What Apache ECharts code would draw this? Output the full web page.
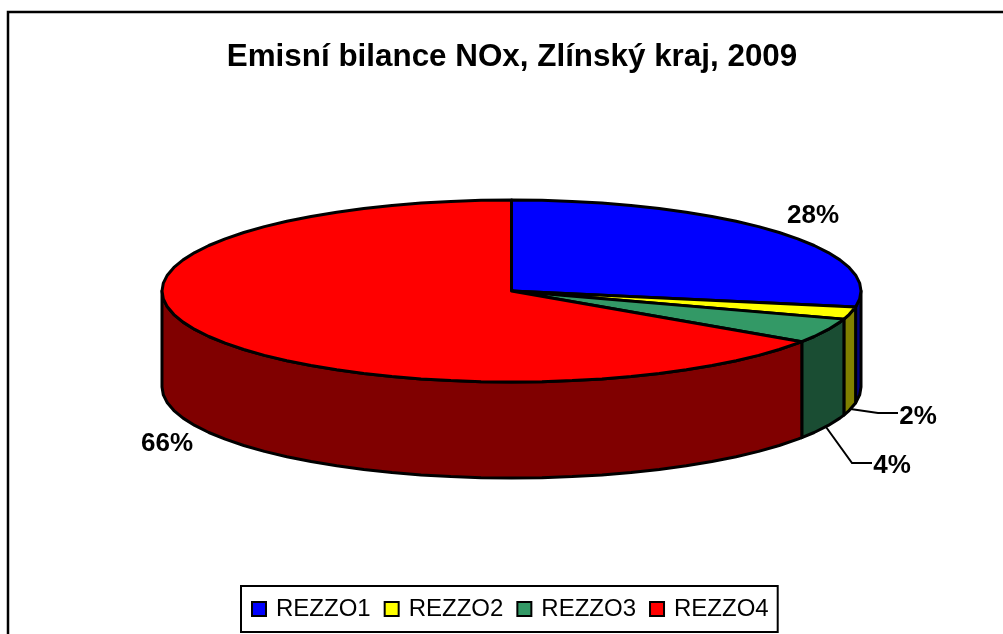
<!DOCTYPE html>
<html><head><meta charset="utf-8">
<style>html,body{margin:0;padding:0;background:#fff}#c{width:1003px;height:634px}</style>
<script src="https://cdn.jsdelivr.net/npm/echarts@6/dist/echarts.min.js"></script>
</head><body><div id="c"></div>
<script>
const chartTitle = 'Emisní bilance NOx, Zlínský kraj, 2009';
const categories = ['REZZO1', 'REZZO2', 'REZZO3', 'REZZO4'];
const shares = [27.8, 2.2, 4.4, 65.6];
const topColors = ['#0000FF', '#FFFF00', '#339966', '#FF0000'];
const sideColors = ['#000080', '#808000', '#1A4D33', '#800000'];

const FONT = '"Liberation Sans", Arial, sans-serif';
const pie = { cx: 511.5, cy: 291, rx: 349.5, ry: 91, depth: 96 };
const labelSpots = [[813, 216], [918, 417], [892, 466], [167, 444]];
const leaderBends = [null, [[878, 413], [898, 413]], [[852, 463], [872, 463]], null];
const facetDeg = 5;

const total = shares.reduce((a, b) => a + b, 0);
const startDeg = [];
shares.reduce((acc, v, i) => { startDeg[i] = acc / total * 360; return acc + v; }, 0);

function pt(deg, dy) {
  const r = deg * Math.PI / 180;
  return [pie.cx + pie.rx * Math.sin(r), pie.cy - pie.ry * Math.cos(r) + (dy || 0)];
}
// Outline is faceted on a fixed angular grid, as in the source picture.
function arc(a, b, dy) {
  const lo = Math.min(a, b), hi = Math.max(a, b), angles = [lo];
  for (let d = (Math.floor(lo / facetDeg) + 1) * facetDeg; d < hi; d += facetDeg) angles.push(d);
  angles.push(hi);
  if (a > b) angles.reverse();
  return angles.map(d => pt(d, dy));
}
const edge = { stroke: '#000', lineWidth: 3, lineJoin: 'round' };

function makeRender(i) {
  return function () {
    const a = startDeg[i], b = a + shares[i] / total * 360;
    const children = [];
    const sa = Math.max(a, 90), sb = Math.min(b, 270);
    if (sb > sa) {
      const upper = arc(sa, sb, 0), lower = arc(sb, sa, pie.depth);
      children.push({ type: 'polygon', shape: { points: upper.concat(lower) },
        style: Object.assign({ fill: sideColors[i] }, edge) });
    }
    children.push({ type: 'polygon', shape: { points: [[pie.cx, pie.cy]].concat(arc(a, b, 0)) },
      style: Object.assign({ fill: topColors[i] }, edge) });
    if (leaderBends[i]) {
      const m = (a + b) / 2;
      children.push({ type: 'polyline', shape: { points: [pt(m, pie.depth)].concat(leaderBends[i]) },
        style: { stroke: '#000', lineWidth: 2, fill: null } });
    }
    children.push({ type: 'text', style: { x: labelSpots[i][0], y: labelSpots[i][1],
      text: Math.round(shares[i]) + '%', align: 'center', verticalAlign: 'middle',
      font: 'bold 26px ' + FONT, fill: '#000' } });
    return { type: 'group', children };
  };
}

const chart = echarts.init(document.getElementById('c'), null, { renderer: 'canvas' });
chart.setOption({
  animation: false,
  backgroundColor: '#fff',
  title: { text: chartTitle, left: 507, top: 37, textAlign: 'center',
    textStyle: { fontFamily: FONT, fontWeight: 'bold', fontSize: 31.4, color: '#000' } },
  legend: {
    data: categories, left: 241, top: 586, orient: 'horizontal', icon: 'rect',
    itemWidth: 14, itemHeight: 14, itemGap: 13, padding: [11, 9, 11, 10],
    backgroundColor: '#fff', borderColor: '#000', borderWidth: 2,
    itemStyle: { borderColor: '#000', borderWidth: 2 },
    textStyle: { fontFamily: FONT, fontSize: 24, color: '#000', padding: [0, 0, 0, 5] }
  },
  graphic: [{ type: 'polyline', silent: true, z: 0,
    shape: { points: [[8, 634], [8, 12], [1003, 12]] },
    style: { stroke: '#000', lineWidth: 2.5, fill: null } }],
  series: categories.map((name, i) => ({
    type: 'custom', name, coordinateSystem: 'none', silent: true,
    data: [shares[i]], itemStyle: { color: topColors[i] },
    renderItem: makeRender(i)
  }))
});
</script></body></html>
